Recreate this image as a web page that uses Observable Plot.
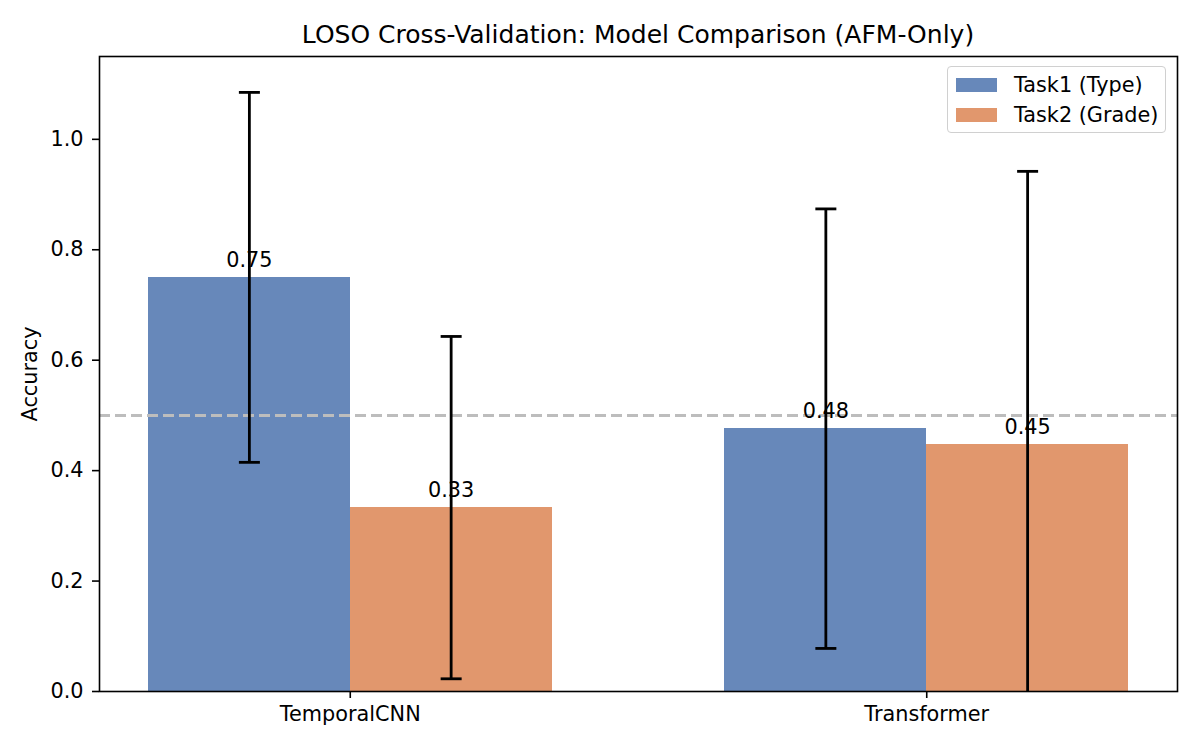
<!DOCTYPE html>
<html>
<head>
<meta charset="utf-8">
<script src="https://cdn.jsdelivr.net/npm/d3@7"></script>
<script src="https://cdn.jsdelivr.net/npm/@observablehq/plot@0.6"></script>
<style>
  body { margin: 0; background: #fff; font-family: "DejaVu Sans", sans-serif; }
  #wrap { position: relative; width: 1200px; height: 750px; }
  #title { position: absolute; left: 99px; width: 1078px; top: 20px; text-align: center; font-size: 25px; color: #000; line-height: 30px; white-space: nowrap; }
  #legend { position: absolute; left: 947px; top: 66px; width: 217px; height: 65px; border: 1px solid #d0d0d0; border-radius: 4px; background: rgba(255,255,255,0.8); font-size: 20.8px; color: #000; }
  .row { position: absolute; left: 8px; height: 20px; display: flex; align-items: center; white-space: nowrap; }
  .sw { width: 41px; height: 14.5px; margin-right: 17px; flex: none; }
</style>
</head>
<body>
<div id="wrap">
  <div id="chart"></div>
  <div id="title">LOSO Cross-Validation: Model Comparison (AFM-Only)</div>
  <div id="legend"></div>
</div>
<script>
const models = ["TemporalCNN", "Transformer"];
const series = ["Task1 (Type)", "Task2 (Grade)"];
const task1Mean = [0.75, 0.476];
const task1Std = [0.335, 0.398];
const task2Mean = [0.333, 0.447];
const task2Std = [0.31, 0.495];
const colors = ["#6788ba", "#e1976d"];
const chanceLevel = 0.5;

const barW = 0.35;
const means = [task1Mean, task2Mean];
const stds = [task1Std, task2Std];
const rows = [];
series.forEach((s, si) => {
  models.forEach((m, mi) => {
    const x1 = mi - barW + si * barW;
    rows.push({
      model: m, series: s, mean: means[si][mi], std: stds[si][mi],
      x1, x2: x1 + barW, xc: x1 + barW / 2, color: colors[si]
    });
  });
});

const capSymbol = {
  draw(ctx, size) {
    const r = Math.sqrt(size / Math.PI);
    ctx.moveTo(-r, 0);
    ctx.lineTo(r, 0);
  }
};

const chart = Plot.plot({
  width: 1200,
  height: 750,
  marginTop: 56,
  marginBottom: 59,
  marginLeft: 99,
  marginRight: 23,
  style: { fontFamily: "DejaVu Sans, sans-serif", fontSize: "20.8px", color: "#000", background: "#fff" },
  x: { domain: [-0.435, 1.435] },
  y: { domain: [0, 1.15] },
  marks: [
    Plot.rect(rows, { x1: "x1", x2: "x2", y1: 0, y2: "mean", fill: "color", shapeRendering: "crispEdges" }),
    Plot.ruleY([chanceLevel], { stroke: "#bdbdbd", strokeWidth: 3, strokeDasharray: "11,5" }),
    Plot.ruleX(rows, { x: "xc", y1: d => d.mean - d.std, y2: d => d.mean + d.std, stroke: "#000", strokeWidth: 2.8, clip: true }),
    Plot.dot(rows, { x: "xc", y: d => d.mean + d.std, symbol: capSymbol, r: 10.5, stroke: "#000", strokeWidth: 2.8, clip: true }),
    Plot.dot(rows, { x: "xc", y: d => d.mean - d.std, symbol: capSymbol, r: 10.5, stroke: "#000", strokeWidth: 2.8, clip: true }),
    Plot.text(rows, { x: "xc", y: "mean", text: d => d3.format(".2f")(d.mean), dy: -17, textAnchor: "middle", lineAnchor: "middle", fill: "#000", fontSize: 20.8 }),
    Plot.axisY({ ticks: [0, 0.2, 0.4, 0.6, 0.8, 1.0], tickFormat: d3.format(".1f"), tickSize: 7, tickPadding: 9, strokeWidth: 1.6, label: "Accuracy", labelAnchor: "center", labelArrow: "none", labelOffset: 77, fontSize: 20.8 }),
    Plot.axisX({ ticks: [0, 1], tickFormat: i => models[i], tickSize: 7, tickPadding: 8, strokeWidth: 1.6, label: null, fontSize: 20.8 }),
    Plot.frame({ stroke: "#000", strokeWidth: 1.6 })
  ]
});
document.getElementById("chart").appendChild(chart);

const legend = document.getElementById("legend");
series.forEach((s, i) => {
  const row = document.createElement("div");
  row.className = "row";
  row.style.top = (8 + i * 30) + "px";
  row.innerHTML = `<div class="sw" style="background:${colors[i]}"></div><span>${s}</span>`;
  legend.appendChild(row);
});
</script>
</body>
</html>
